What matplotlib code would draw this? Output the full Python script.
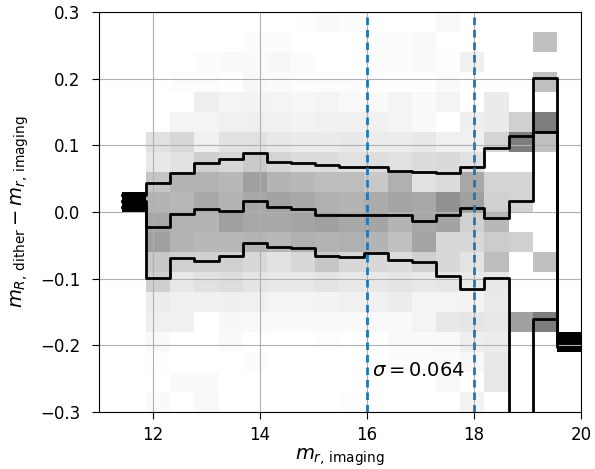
import numpy as np
import matplotlib
matplotlib.use("Agg")
import matplotlib.pyplot as plt

# bin edges of the 2D histogram
x_edges = np.linspace(11.42, 20.0, 20)   # 19 magnitude bins
y_edges = np.linspace(-0.3, 0.3, 21)     # 20 residual bins

# column-normalised density (shade), one list per magnitude bin, rows bottom -> top
col00 = [0, 0, 0, 0, 0, 0, 0, 0, 0, 0, 1.0, 0, 0, 0, 0, 0, 0, 0, 0, 0]
col01 = [0.02, 0, 0.01, 0.027, 0.059, 0.075, 0.184, 0.216, 0.373, 0.34, 0.294, 0.23, 0.09, 0.12, 0, 0, 0, 0, 0, 0]
col02 = [0, 0.02, 0, 0, 0.059, 0.059, 0.09, 0.184, 0.30, 0.30, 0.278, 0.294, 0.12, 0.153, 0.043, 0, 0.015, 0, 0, 0]
col03 = [0.027, 0.02, 0, 0, 0, 0.059, 0.12, 0.184, 0.278, 0.294, 0.34, 0.30, 0.19, 0.059, 0.043, 0.067, 0.012, 0.015, 0, 0]
col04 = [0, 0, 0, 0.02, 0.03, 0.065, 0.13, 0.184, 0.28, 0.373, 0.30, 0.278, 0.16, 0.115, 0.059, 0.043, 0, 0.025, 0, 0]
col05 = [0, 0, 0.012, 0, 0.027, 0.059, 0.105, 0.153, 0.294, 0.34, 0.34, 0.373, 0.21, 0.12, 0.065, 0.05, 0.03, 0.02, 0.012, 0]
col06 = [0, 0, 0, 0, 0.02, 0.043, 0.09, 0.12, 0.278, 0.34, 0.36, 0.294, 0.17, 0.09, 0.059, 0.043, 0.02, 0.035, 0.012, 0]
col07 = [0, 0, 0, 0, 0.02, 0.043, 0.09, 0.153, 0.31, 0.357, 0.34, 0.278, 0.14, 0.08, 0.05, 0.035, 0.012, 0.012, 0, 0.005]
col08 = [0, 0, 0, 0.01, 0.025, 0.05, 0.11, 0.22, 0.30, 0.373, 0.31, 0.26, 0.137, 0.08, 0.059, 0.043, 0.012, 0, 0, 0.02]
col09 = [0.01, 0, 0, 0, 0.02, 0.059, 0.09, 0.153, 0.31, 0.34, 0.294, 0.26, 0.12, 0.09, 0.059, 0.027, 0.012, 0, 0, 0.012]
col10 = [0, 0, 0, 0, 0.027, 0.059, 0.09, 0.153, 0.294, 0.357, 0.33, 0.216, 0.13, 0.075, 0.059, 0.027, 0, 0.015, 0.012, 0]
col11 = [0, 0, 0.012, 0.02, 0.027, 0.075, 0.105, 0.137, 0.247, 0.294, 0.357, 0.31, 0.12, 0.075, 0.043, 0.043, 0, 0.012, 0.012, 0]
col12 = [0, 0, 0.012, 0.02, 0.043, 0.043, 0.09, 0.184, 0.357, 0.34, 0.34, 0.12, 0.137, 0.09, 0.027, 0.027, 0, 0.02, 0.02, 0]
col13 = [0, 0.02, 0.012, 0.027, 0.09, 0.043, 0.10, 0.153, 0.153, 0.36, 0.43, 0.14, 0.145, 0.059, 0, 0.043, 0.02, 0.01, 0, 0.027]
col14 = [0.05, 0, 0.035, 0.07, 0.10, 0.05, 0.085, 0.11, 0.153, 0.184, 0.373, 0.34, 0.12, 0.06, 0.065, 0, 0, 0.059, 0, 0]
col15 = [0, 0.09, 0.09, 0.075, 0.09, 0.085, 0.09, 0.26, 0.20, 0.28, 0.184, 0.17, 0, 0.17, 0.08, 0.08, 0, 0, 0, 0]
col16 = [0, 0, 0, 0, 0.373, 0, 0, 0, 0.184, 0, 0.17, 0.17, 0, 0.51, 0.184, 0, 0, 0, 0, 0]
col17 = [0, 0, 0, 0, 0.51, 0, 0, 0.247, 0, 0, 0, 0, 0, 0.247, 0.51, 0, 0.247, 0, 0.247, 0]
col18 = [0, 0, 0, 1.0, 0, 0, 0, 0, 0, 0, 0, 0, 0, 0, 0, 0, 0, 0, 0, 0]

# running percentiles per magnitude bin
p84 = [0.025, 0.043, 0.058, 0.073, 0.079, 0.089, 0.075, 0.074, 0.071, 0.067,
       0.068, 0.062, 0.060, 0.058, 0.068, 0.096, 0.114, 0.201, -0.187]
p50 = [0.017, -0.022, -0.003, 0.005, 0.001, 0.016, 0.008, 0.005, -0.004, -0.004,
       -0.004, -0.004, -0.014, -0.004, 0.006, -0.009, 0.016, 0.120, -0.195]
p16 = [0.008, -0.0995, -0.0695, -0.0735, -0.0655, -0.047, -0.052, -0.0545, -0.066, -0.067,
       -0.062, -0.072, -0.0745, -0.096, -0.116, -0.0995, -0.40, -0.160, -0.203]

mag_cuts = [16, 18]
sigma_text = r'$\sigma = 0.064$'

cols = [col00, col01, col02, col03, col04, col05, col06, col07, col08, col09,
        col10, col11, col12, col13, col14, col15, col16, col17, col18]
H = np.array(cols).T

fig = plt.figure(figsize=(5.95, 4.69), dpi=100)
ax = fig.add_axes([0.1672, 0.1215, 0.8093, 0.8529])

ax.pcolormesh(x_edges, y_edges, H, cmap='gray_r', vmin=0, vmax=1)
ax.grid(True)

for vals in (p84, p50, p16):
    ax.step(x_edges, np.append(vals, vals[-1]), where='post', color='k', lw=2)

for m in mag_cuts:
    ax.axvline(m, color='C0', ls=(0, (2.7, 1.8)), lw=2)

ax.text(16.1, -0.237, sigma_text, fontsize=14, va='center', ha='left')

ax.set_xlim(11, 20)
ax.set_ylim(-0.3, 0.3)
ax.set_xticks([12, 14, 16, 18, 20])
ax.set_yticks([-0.3, -0.2, -0.1, 0.0, 0.1, 0.2, 0.3])
ax.tick_params(labelsize=12, length=5)
ax.tick_params(axis='x', pad=5)
ax.tick_params(axis='y', pad=9)
ax.set_xlabel(r'$m_{r,\,\mathrm{imaging}}$', fontsize=14, labelpad=2)
ax.set_ylabel(r'$m_{R,\,\mathrm{dither}} - m_{r,\,\mathrm{imaging}}$', fontsize=14, labelpad=6)

fig.savefig('out.png', dpi=100)
